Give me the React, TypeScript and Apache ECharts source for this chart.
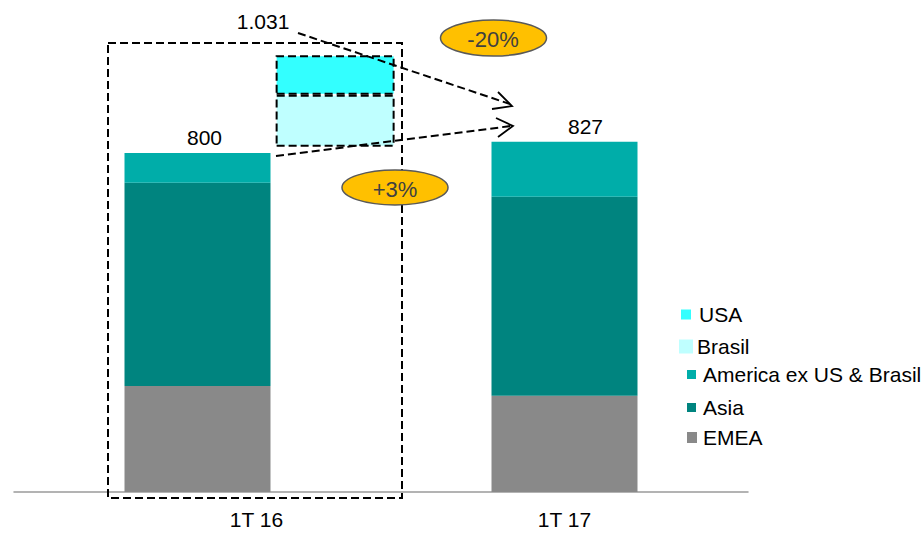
import React, { useEffect, useRef } from 'react';
import * as echarts from 'echarts';

// ---- data ----
const categories = ['1T 16', '1T 17'];
const emea = [250, 227];
const asia = [480, 470];
const americaEx = [70, 130];
const totals = ['800', '827'];

// floating (pro-forma) stack on a helper axis
const floatSlots = ['0', '1', '2', '3', '4', '5', '6', '7'];
const floatBase = ['-', '-', '-', 815, '-', '-', '-', '-'];
const brasil = ['-', '-', '-', 123, '-', '-', '-', '-'];
const usa = ['-', '-', '-', 93, '-', '-', '-', '-'];
const floatTotalLabel = '1.031';

const changeLabels = ['-20%', '+3%'];

const FONT = '"Liberation Sans", Arial, sans-serif';
const COLORS = {
  usa: '#33FFFF',
  brasil: '#BFFFFF',
  america: '#00ADA9',
  asia: '#00847F',
  emea: '#898989',
};

const legendLayout = [
  { name: 'USA', left: 681, top: 304, w: 10, h: 10, pad: 3 },
  { name: 'Brasil', left: 679, top: 336, w: 14, h: 14, pad: -1 },
  { name: 'America ex US & Brasil', left: 687, top: 364, w: 9, h: 9, pad: 2 },
  { name: 'Asia', left: 687, top: 397, w: 9, h: 9, pad: 2 },
  { name: 'EMEA', left: 687, top: 427, w: 10, h: 11, pad: 1 },
];

export default function App() {
  const ref = useRef<HTMLDivElement>(null);
  useEffect(() => {
    document.body.style.margin = '0';
    const chart = echarts.init(ref.current!, null, { renderer: 'svg' });
    const dashed = { stroke: '#000', lineWidth: 2, lineDash: [8, 4], fill: 'none' };
    const arrowHead = { stroke: '#000', lineWidth: 1.8, fill: 'none' };
    const option: any = {
      animation: false,
      textStyle: { fontFamily: FONT },
      grid: { left: 14, right: 175, top: 26, bottom: 42 },
      xAxis: [
        {
          type: 'category',
          data: categories,
          axisTick: { show: false },
          axisLine: { lineStyle: { color: '#9a9a9a', width: 1.5 } },
          axisLabel: {
            margin: 17,
            color: '#000',
            fontSize: 21,
            fontFamily: FONT,
            formatter: (v: string) => (v === categories[0] ? '{s|' + v + '}' : v),
            rich: { s: { padding: [0, 0, 0, 118], fontSize: 21, fontFamily: FONT, color: '#000' } },
          },
        },
        { type: 'category', data: floatSlots, show: false },
      ],
      yAxis: { type: 'value', min: 0, max: 1100, show: false, splitLine: { show: false } },
      legend: legendLayout.map((l) => ({
        data: [l.name],
        left: l.left,
        top: l.top,
        padding: 0,
        orient: 'vertical',
        icon: 'rect',
        itemWidth: l.w,
        itemHeight: l.h,
        itemStyle: { borderWidth: 0 },
        selectedMode: false,
        textStyle: { fontSize: 21, lineHeight: 21, color: '#000', fontFamily: FONT, padding: [0, 0, 0, l.pad] },
      })),
      series: [
        {
          name: 'EMEA', type: 'bar', stack: 'main', barWidth: 146, data: emea,
          itemStyle: { color: COLORS.emea },
        },
        {
          name: 'Asia', type: 'bar', stack: 'main', barWidth: 146, data: asia,
          itemStyle: { color: COLORS.asia },
        },
        {
          name: 'America ex US & Brasil', type: 'bar', stack: 'main', barWidth: 146,
          itemStyle: { color: COLORS.america },
          data: americaEx.map((v, i) => ({
            value: v,
            label: {
              show: true,
              position: 'top',
              distance: 5,
              offset: i === 0 ? [7, 0] : [21, 0],
              formatter: () => totals[i],
              fontSize: 21,
              color: '#000',
              fontFamily: FONT,
            },
          })),
        },
        {
          name: 'base', type: 'bar', stack: 'float', xAxisIndex: 1, barWidth: 119, data: floatBase,
          itemStyle: { color: 'transparent' }, silent: true,
        },
        {
          name: 'Brasil', type: 'bar', stack: 'float', xAxisIndex: 1, barWidth: 119, data: brasil,
          itemStyle: { color: COLORS.brasil, borderColor: '#000', borderWidth: 2, borderType: [8, 4] },
        },
        {
          name: 'USA', type: 'bar', stack: 'float', xAxisIndex: 1, barWidth: 119, data: usa,
          itemStyle: { color: COLORS.usa, borderColor: '#000', borderWidth: 2, borderType: [8, 4] },
          label: {
            show: true,
            position: 'top',
            distance: 5,
            offset: [-72, -18],
            formatter: () => floatTotalLabel,
            fontSize: 21,
            color: '#000',
            fontFamily: FONT,
          },
        },
      ],
      graphic: [
        { type: 'rect', z: 100, shape: { x: 108, y: 43, width: 294, height: 455 }, style: dashed },
        { type: 'line', z: 100, shape: { x1: 298, y1: 33, x2: 510, y2: 104 }, style: dashed },
        { type: 'polyline', z: 100, shape: { points: [[498, 92], [512, 106], [492, 109]] }, style: arrowHead },
        { type: 'line', z: 100, shape: { x1: 276, y1: 156, x2: 511, y2: 126 }, style: dashed },
        { type: 'polyline', z: 100, shape: { points: [[496, 118], [513, 126], [498, 137]] }, style: arrowHead },
        { type: 'ellipse', z: 101, shape: { cx: 493.5, cy: 38, rx: 53, ry: 18 }, style: { fill: '#FFC000', stroke: '#595959', lineWidth: 1.5 } },
        { type: 'text', z: 102, x: 493, y: 39, style: { text: changeLabels[0], fontSize: 22, fontFamily: FONT, fill: '#404040', align: 'center', verticalAlign: 'middle' } },
        { type: 'ellipse', z: 101, shape: { cx: 395, cy: 187.5, rx: 53, ry: 17.5 }, style: { fill: '#FFC000', stroke: '#595959', lineWidth: 1.5 } },
        { type: 'text', z: 102, x: 395, y: 189, style: { text: changeLabels[1], fontSize: 22, fontFamily: FONT, fill: '#404040', align: 'center', verticalAlign: 'middle' } },
      ],
    };
    chart.setOption(option);
    return () => chart.dispose();
  }, []);
  return <div ref={ref} style={{ width: 923, height: 534 }} />;
}
